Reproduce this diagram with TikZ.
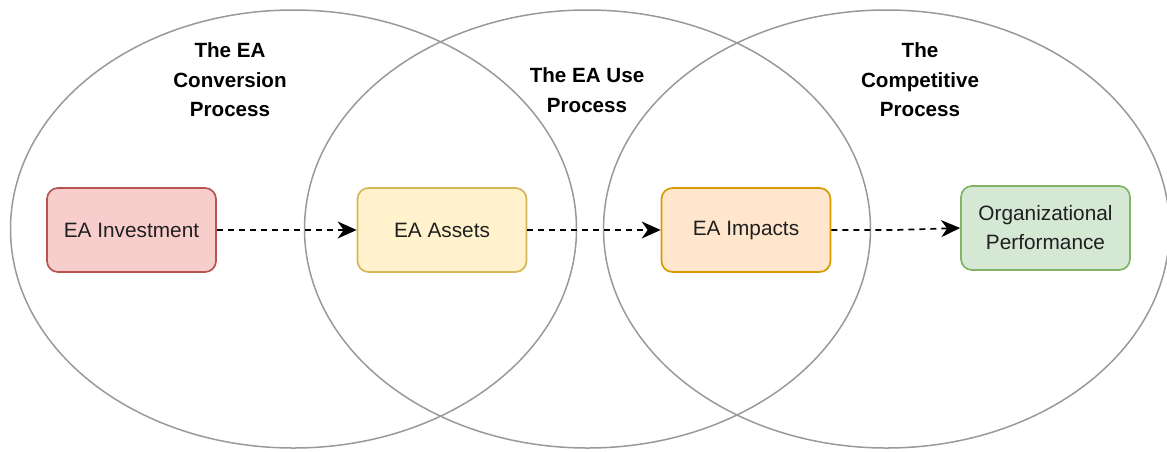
\documentclass[tikz,border=0pt]{standalone}
\usepackage{fontspec}
\setmainfont{Liberation Sans}
\usetikzlibrary{shapes.geometric,arrows.meta}
\definecolor{ringgray}{HTML}{999999}
\definecolor{invfill}{HTML}{F8CECC}\definecolor{invline}{HTML}{B85450}
\definecolor{assfill}{HTML}{FFF2CC}\definecolor{assline}{HTML}{D6B656}
\definecolor{impfill}{HTML}{FFE6CC}\definecolor{impline}{HTML}{D79B00}
\definecolor{orgfill}{HTML}{D5E8D4}\definecolor{orgline}{HTML}{82B366}
\begin{document}
\begin{tikzpicture}[x=1pt,y=-1pt,
  procring/.style={ellipse, draw=ringgray, line width=1.5pt,
    minimum width=566pt, minimum height=438pt, inner sep=0pt},
  stagebox/.style={rounded corners=11pt, line width=1.7pt,
    minimum width=169pt, minimum height=84pt, inner sep=2pt, align=center,
    font=\fontsize{20.8}{29}\selectfont, text=black!88},
  phasetitle/.style={align=center, font=\bfseries\fontsize{20.6}{29.5}\selectfont},
  flow/.style={-{Stealth[length=19pt,width=17pt,inset=6pt]}, dash pattern=on 6pt off 5pt,
    line width=1.7pt}]
  \useasboundingbox (0,0) rectangle (1167,451);

  % the three overlapping process rings
  \node (ringA) [procring] at (293.5,229) {};
  \node (ringB) [procring] at (587.5,229) {};
  \node (ringC) [procring] at (886.5,229) {};

  % process titles
  \node (titleA) [phasetitle] at (230,80) {The EA\\Conversion\\Process};
  \node (titleB) [phasetitle] at (587,90) {The EA Use\\Process};
  \node (titleC) [phasetitle] at (920,80) {The\\Competitive\\Process};

  % stages
  \node (inv) [stagebox, fill=invfill, draw=invline] at (131.5,230) {EA Investment};
  \node (ass) [stagebox, fill=assfill, draw=assline] at (442,230) {EA Assets};
  \node (imp) [stagebox, fill=impfill, draw=impline] at (746,230) {EA Impacts};
  \node (org) [stagebox, fill=orgfill, draw=orgline] at (1045.5,228) {Organizational\\Performance};

  % flow between stages
  \coordinate (bend) at (895,230);
  \draw[flow] (inv.east) -- (ass.west);
  \draw[flow] (ass.east) -- (imp.west);
  \draw[flow] (imp.east) -- (bend) -- (org.west);
\end{tikzpicture}
\end{document}
